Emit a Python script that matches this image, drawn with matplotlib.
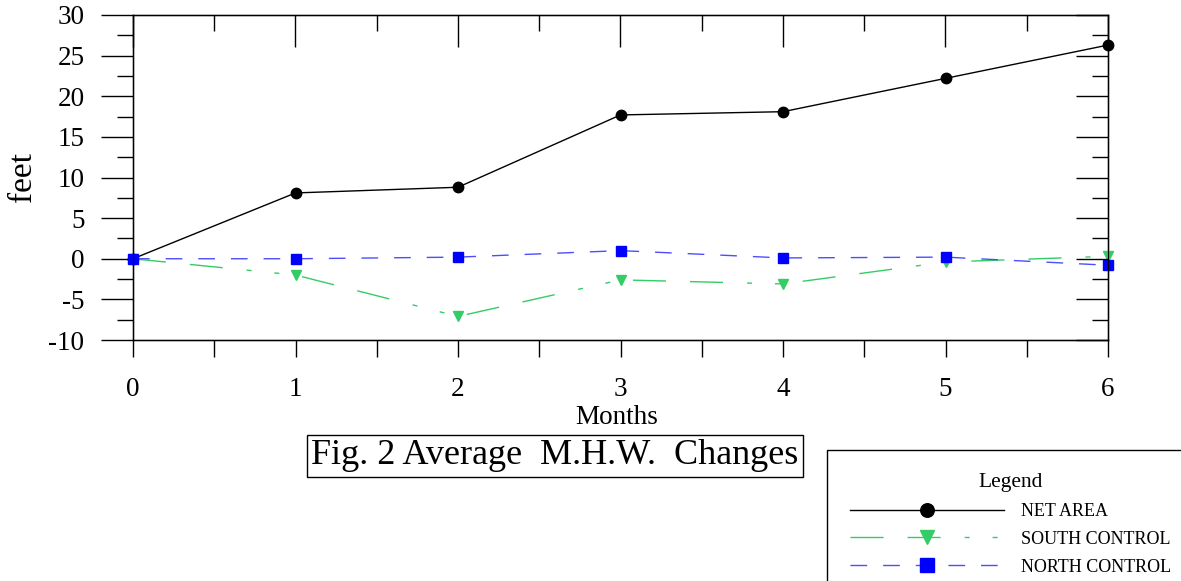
import numpy as np
import matplotlib
matplotlib.use("Agg")
import matplotlib.pyplot as plt
from matplotlib.ticker import MultipleLocator

plt.rcParams['font.family'] = ['Liberation Serif', 'DejaVu Serif']
plt.rcParams['axes.unicode_minus'] = False
plt.rcParams['lines.scale_dashes'] = False

months = [0, 1, 2, 3, 4, 5, 6]
net_area = [0.0, 8.1, 8.8, 17.7, 18.1, 22.2, 26.3]
south_control = [0.0, -2.0, -7.1, -2.6, -3.1, -0.4, 0.3]
north_control = [0.0, 0.0, 0.2, 1.0, 0.1, 0.2, -0.8]

green = '#33cc66'
blue_line = '#4d4dff'
blue_mk = '#0000ff'

fig = plt.figure(figsize=(11.81, 5.81), dpi=100)
ax = fig.add_axes([133 / 1181, 1 - 340 / 581, (1108 - 133) / 1181, (340 - 15) / 581])

ax.plot(months, net_area, color='black', lw=1.0, marker='o', ms=7.5,
        label='NET AREA', zorder=3, clip_on=False)
ax.plot(months, south_control, color=green, lw=1.0, marker='v', ms=7.5,
        dashes=(23.8, 17.3, 23.8, 17.3, 3.6, 16.5, 3.6, 16.5),
        label='SOUTH CONTROL', zorder=4, clip_on=False)
ax.plot(months, north_control, color=blue_line, lw=1.0, marker='s', ms=7.5,
        mfc=blue_mk, mec=blue_mk, dashes=(12, 11.5),
        label='NORTH CONTROL', zorder=5, clip_on=False)

ax.set_xlim(0, 6)
ax.set_ylim(-10, 30)
ax.xaxis.set_major_locator(MultipleLocator(1))
ax.xaxis.set_minor_locator(MultipleLocator(0.5))
ax.yaxis.set_major_locator(MultipleLocator(5))
ax.yaxis.set_minor_locator(MultipleLocator(2.5))
ax.tick_params(axis='y', which='major', direction='out', length=23, width=1,
               labelsize=19.5, pad=12)
ax.tick_params(axis='y', which='minor', direction='out', length=11.5, width=1)
ax.tick_params(axis='x', which='both', direction='out', length=12, width=1,
               labelsize=19.5, pad=15)
for s in ax.spines.values():
    s.set_linewidth(1.0)

# right and top ticks point inward
axr = ax.twinx()
axr.set_ylim(-10, 30)
axr.yaxis.set_major_locator(MultipleLocator(5))
axr.yaxis.set_minor_locator(MultipleLocator(2.5))
axr.tick_params(axis='y', which='major', direction='in', length=23, width=1,
                labelright=False)
axr.tick_params(axis='y', which='minor', direction='in', length=11.5, width=1)
axt = ax.twiny()
axt.set_xlim(0, 6)
axt.xaxis.set_major_locator(MultipleLocator(1))
axt.xaxis.set_minor_locator(MultipleLocator(0.5))
axt.tick_params(axis='x', which='major', direction='in', length=23, width=1,
                labeltop=False)
axt.tick_params(axis='x', which='minor', direction='in', length=11.5, width=1)

fig.text(23 / 1181, 1 - 177 / 581, 'feet', fontsize=24, rotation=90,
         ha='center', va='center')
fig.text(617 / 1181, 1 - 418 / 581, 'Months', fontsize=19.5, ha='center', va='center')

fig.text(555 / 1181, 1 - 456 / 581, 'Fig. 2 Average  M.H.W.  Changes', fontsize=26,
         ha='center', va='center',
         bbox=dict(boxstyle='square,pad=0.12', fc='white', ec='black', lw=1))

leg = fig.legend(loc='upper left', bbox_to_anchor=(827 / 1181, 1 - 450 / 581),
                 title='Legend', fontsize=13, title_fontsize=15.5,
                 handlelength=8.5, handletextpad=0.95, numpoints=1, markerscale=1.3,
                 fancybox=False, edgecolor='black', framealpha=1,
                 borderaxespad=0, borderpad=1.28, labelspacing=0.6)
leg.get_frame().set_linewidth(1.0)

fig.savefig('out.png', dpi=100)
